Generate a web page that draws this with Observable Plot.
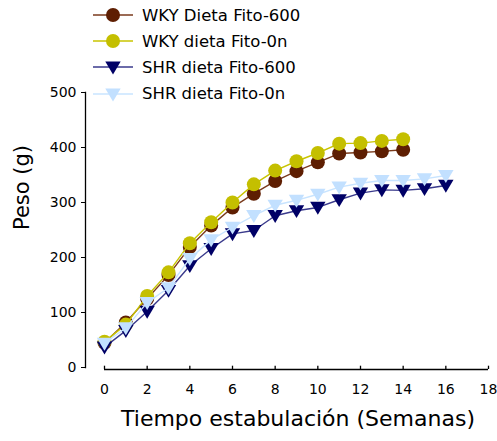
<!DOCTYPE html>
<html>
<head>
<meta charset="utf-8">
<script src="https://cdn.jsdelivr.net/npm/d3@7"></script>
<script src="https://cdn.jsdelivr.net/npm/@observablehq/plot@0.6"></script>
<style>
  html, body { margin: 0; padding: 0; background: #fff; }
  #wrap { position: relative; width: 497px; height: 441px; font-family: "DejaVu Sans", sans-serif; }
  #legend { position: absolute; left: 90px; top: 2px; }
  .row { display: flex; align-items: center; height: 26.2px; font-size: 16.5px; color: #000; }
  .row svg { margin-right: 6px; }
</style>
</head>
<body>
<div id="wrap"><div id="chart"></div><div id="legend"></div></div>
<script>
const seriesNames = ["WKY Dieta Fito-600", "WKY dieta Fito-0n", "SHR dieta Fito-600", "SHR dieta Fito-0n"];
const weeksWKY = [0,1,2,3,4,5,6,7,8,9,10,11,12,13,14];
const weeksSHR = [0,1,2,3,4,5,6,7,8,9,10,11,12,13,14,15,16];
const wky600 = [45, 82, 125, 168, 219, 258, 291, 316, 339, 357, 373, 389, 391, 393, 396];
const wky0n  = [47, 78, 130, 173, 226, 264, 300, 333, 358, 375, 390, 407, 408, 412, 415];
const shr600 = [37, 67, 102, 140, 185, 216, 243, 249, 276, 285, 291, 305, 317, 323, 322, 325, 331];
const shr0n  = [44, 72, 118, 145, 198, 232, 255, 276, 295, 304, 315, 328, 335, 340, 340, 343, 349];
const xTicks = [0,2,4,6,8,10,12,14,16,18];
const yTicks = [0,100,200,300,400,500];
const markerFill = ["#5e1e02", "#c4bf00", "#000066", "#c2e0ff"];
const lineColor = ["#7a3a1c", "#c8c400", "#3a3a8c", "#c8e4ff"];
const markerType = ["circle", "circle", "tri", "tri"];

const triDown = {
  draw(ctx, size) {
    const r = Math.sqrt(size / Math.PI);
    const w = 1.1 * r, t = 0.8 * r, b = 1.05 * r;
    ctx.moveTo(-w, -t); ctx.lineTo(w, -t); ctx.lineTo(0, b); ctx.closePath();
  }
};

const seriesData = [
  weeksWKY.map((w, i) => ({week: w, peso: wky600[i]})),
  weeksWKY.map((w, i) => ({week: w, peso: wky0n[i]})),
  weeksSHR.map((w, i) => ({week: w, peso: shr600[i]})),
  weeksSHR.map((w, i) => ({week: w, peso: shr0n[i]}))
];

const marks = [];
seriesData.forEach((data, k) => {
  marks.push(Plot.line(data, {x: "week", y: "peso", stroke: lineColor[k], strokeWidth: 1.4}));
  marks.push(Plot.dot(data, {x: "week", y: "peso", r: 7, fill: markerFill[k], stroke: "none",
    symbol: markerType[k] === "circle" ? "circle" : triDown}));
});

const chart = Plot.plot({
  width: 497,
  height: 441,
  marginTop: 92,
  marginBottom: 74,
  marginLeft: 85,
  marginRight: 9,
  insetLeft: 19,
  style: {fontFamily: "DejaVu Sans, sans-serif", fontSize: "14px", color: "#000", background: "#fff"},
  x: {domain: [0, 18]},
  y: {domain: [0, 500]},
  marks: [
    Plot.frame({anchor: "left", stroke: "#000", strokeWidth: 1.3}),
    Plot.ruleY([0], {x1: 0, x2: 18, dy: 2, stroke: "#000", strokeWidth: 1.3}),
    Plot.ruleX(xTicks, {x: d => d, y1: 0, y2: 6, dy: 2, stroke: "#000", strokeWidth: 1.3}),
    Plot.axisY({ticks: yTicks, tickSize: 4, tickPadding: 5, label: null, fontSize: 14}),
    Plot.axisX({ticks: xTicks, tickSize: 0, tickPadding: 17, label: null, fontSize: 14}),
    Plot.text(["Peso (g)"], {frameAnchor: "left", rotate: -90, dx: -63, fontSize: 21}),
    Plot.text(["Tiempo estabulación (Semanas)"], {frameAnchor: "bottom", dx: 11, dy: 58, fontSize: 22}),
    ...marks
  ]
});
document.getElementById("chart").appendChild(chart);

const legend = document.getElementById("legend");
seriesNames.forEach((name, k) => {
  const row = document.createElement("div");
  row.className = "row";
  const marker = markerType[k] === "circle"
    ? `<circle cx="23" cy="13" r="7" fill="${markerFill[k]}"/>`
    : `<path d="M15.3,7.4 L30.7,7.4 L23,20.4 Z" fill="${markerFill[k]}"/>`;
  row.innerHTML = `<svg width="46" height="26"><line x1="3" x2="43" y1="13" y2="13" stroke="${lineColor[k]}" stroke-width="1.6"/>${marker}</svg><span>${name}</span>`;
  legend.appendChild(row);
});
</script>
</body>
</html>
